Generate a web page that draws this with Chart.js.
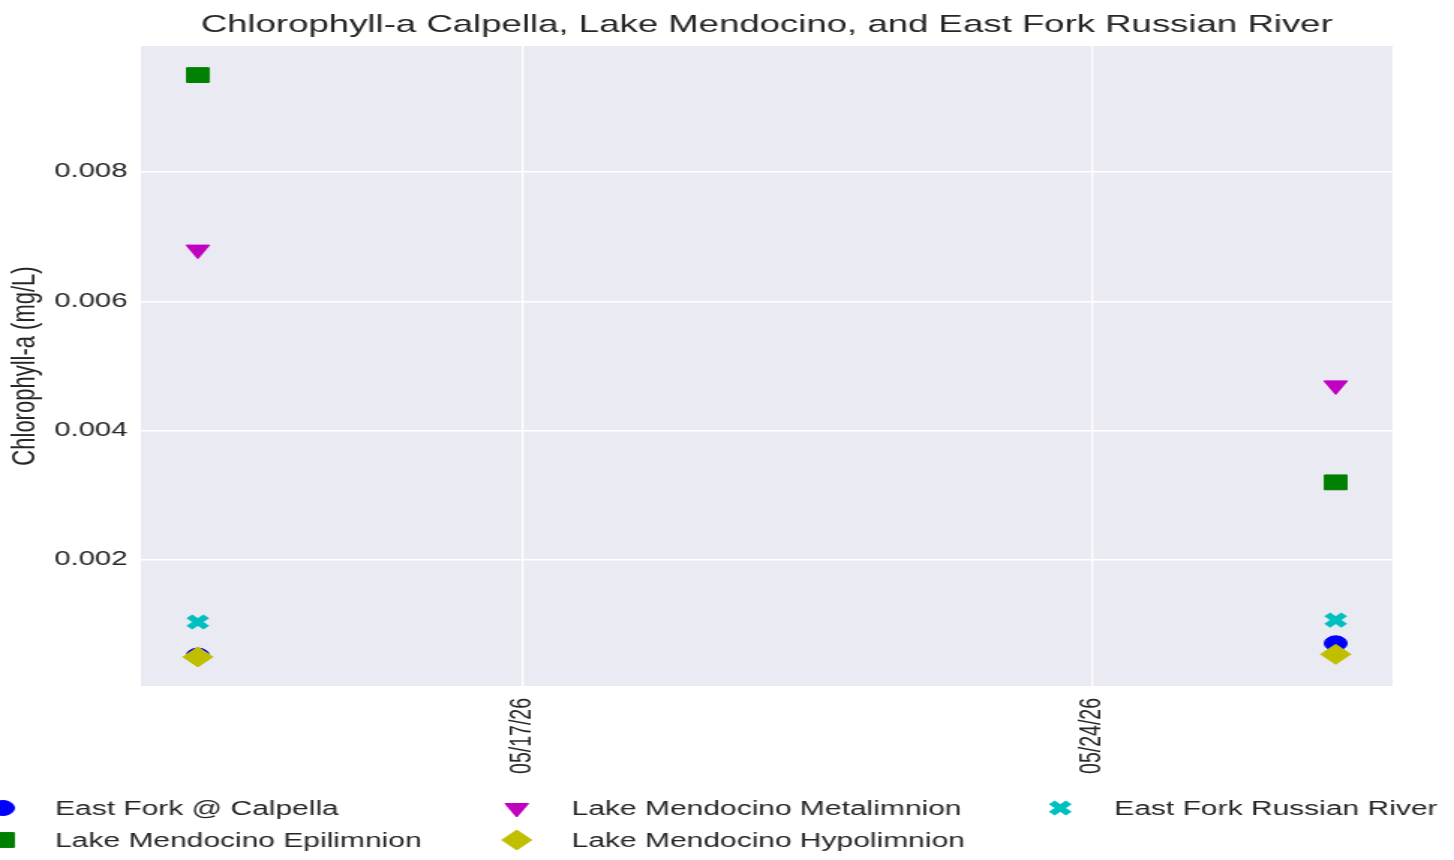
<!DOCTYPE html>
<html>
<head>
<meta charset="utf-8">
<title>Chlorophyll-a</title>
<script src="https://cdn.jsdelivr.net/npm/chart.js@4.4.1/dist/chart.umd.min.js"></script>
<style>
  html, body { margin: 0; padding: 0; background: #fff; overflow: hidden; }
  /* the reference is a stretched figure, so the canvas is widened the same way */
  #wrap { width: 970px; height: 860px; transform: scaleX(1.499); transform-origin: 0 0; }
</style>
</head>
<body>
<div id="wrap"><canvas id="chl" width="970" height="860"></canvas></div>
<script>
// sampling dates (day of May 2026)
var sampleDays = [13, 27];
var tickDays = [17, 24];
var tickLabels = ["05/17/26", "05/24/26"];
var yTicks = [0.002, 0.004, 0.006, 0.008];

// chlorophyll-a, mg/L
var calpella = [0.00052, 0.00071];
var epilimnion = [0.0095, 0.0032];
var metalimnion = [0.0068, 0.0047];
var hypolimnion = [0.0005, 0.00054];
var russianRiver = [0.00104, 0.00107];

var seriesNames = ["East Fork @ Calpella", "Lake Mendocino Epilimnion", "Lake Mendocino Metalimnion",
                   "Lake Mendocino Hypolimnion", "East Fork Russian River"];

Chart.defaults.font.family = "'Liberation Sans', Arial, sans-serif";
Chart.defaults.color = "#262626";

function pts(vals) {
  return vals.map(function(v, i) { return { x: sampleDays[i], y: v }; });
}

var datasets = [
  { label: seriesNames[0], data: pts(calpella), pointStyle: "circle", pointRadius: 7.5,
    backgroundColor: "#0000ff", borderColor: "#0000ff", borderWidth: 1, order: 2 },
  { label: seriesNames[1], data: pts(epilimnion), pointStyle: "rect", pointRadius: 10.5,
    backgroundColor: "#008000", borderColor: "#008000", borderWidth: 1, order: 1 },
  { label: seriesNames[2], data: pts(metalimnion), pointStyle: "triangle", pointRadius: 9, rotation: 180,
    backgroundColor: "#bf00bf", borderColor: "#bf00bf", borderWidth: 1, order: 1 },
  { label: seriesNames[3], data: pts(hypolimnion), pointStyle: "rectRot", pointRadius: 10,
    backgroundColor: "#bfbf00", borderColor: "#bfbf00", borderWidth: 1, order: 0 },
  { label: seriesNames[4], data: pts(russianRiver), pointStyle: "crossRot", pointRadius: 8,
    backgroundColor: "#00bfbf", borderColor: "#00bfbf", borderWidth: 5.5, order: 1 }
];

var plotBg = {
  id: "plotBg",
  beforeDraw: function(chart) {
    var a = chart.chartArea, ctx = chart.ctx;
    ctx.save();
    ctx.fillStyle = "#eaeaf2";
    ctx.fillRect(a.left, a.top, a.right - a.left, a.bottom - a.top);
    ctx.restore();
  }
};

// matplotlib style legend, 3 columns filled column by column
var colLegend = {
  id: "colLegend",
  afterDraw: function(chart) {
    var ctx = chart.ctx;
    var markX = [2, 344.7, 707.3], textX = [36.7, 381.3, 743.3], rowY = [808, 840];
    ctx.save();
    ctx.font = "20px 'Liberation Sans', Arial, sans-serif";
    ctx.textBaseline = "middle";
    datasets.forEach(function(ds, i) {
      var col = Math.floor(i / 2), row = i % 2;
      ctx.fillStyle = ds.backgroundColor;
      ctx.strokeStyle = ds.borderColor;
      ctx.lineWidth = ds.borderWidth;
      Chart.helpers.drawPoint(ctx, { pointStyle: ds.pointStyle, radius: ds.pointRadius,
        rotation: ds.rotation || 0, borderWidth: ds.borderWidth }, markX[col], rowY[row]);
      ctx.fillStyle = "#262626";
      ctx.fillText(ds.label, textX[col], rowY[row] + 1);
    });
    ctx.restore();
  }
};

new Chart(document.getElementById("chl"), {
  type: "scatter",
  data: { datasets: datasets },
  plugins: [plotBg, colLegend],
  options: {
    responsive: false,
    animation: false,
    events: [],
    layout: { padding: { left: 0, right: 41, top: 0, bottom: 0 } },
    plugins: {
      legend: { display: false },
      tooltip: { enabled: false },
      title: {
        display: true,
        fullSize: false,
        text: "Chlorophyll-a Calpella, Lake Mendocino, and East Fork Russian River",
        font: { size: 24.4, weight: "normal" },
        color: "#262626",
        padding: { top: 10.5, bottom: 6.2 }
      }
    },
    scales: {
      x: {
        type: "linear",
        min: 12.3,
        max: 27.7,
        afterBuildTicks: function(scale) {
          scale.ticks = tickDays.map(function(d) { return { value: d }; });
        },
        afterFit: function(scale) { scale.height = 174; },
        ticks: {
          minRotation: 90,
          maxRotation: 90,
          padding: 12,
          font: { size: 19.5 },
          color: "#262626",
          callback: function(v) { return tickLabels[tickDays.indexOf(v)]; }
        },
        grid: { color: "#ffffff", lineWidth: 1.3, drawTicks: false },
        border: { display: false }
      },
      y: {
        min: 0.00005,
        max: 0.00995,
        afterBuildTicks: function(scale) {
          scale.ticks = yTicks.map(function(v) { return { value: v }; });
        },
        afterFit: function(scale) { scale.width = 94; },
        ticks: {
          padding: 9,
          font: { size: 19.5 },
          color: "#262626",
          callback: function(v) { return v.toFixed(3); }
        },
        grid: { color: "#ffffff", lineWidth: 1.6, drawTicks: false },
        border: { display: false },
        title: {
          display: true,
          text: "Chlorophyll-a (mg/L)",
          font: { size: 22 },
          color: "#262626",
          padding: { top: 4, bottom: 0 }
        }
      }
    }
  }
});
</script>
</body>
</html>
